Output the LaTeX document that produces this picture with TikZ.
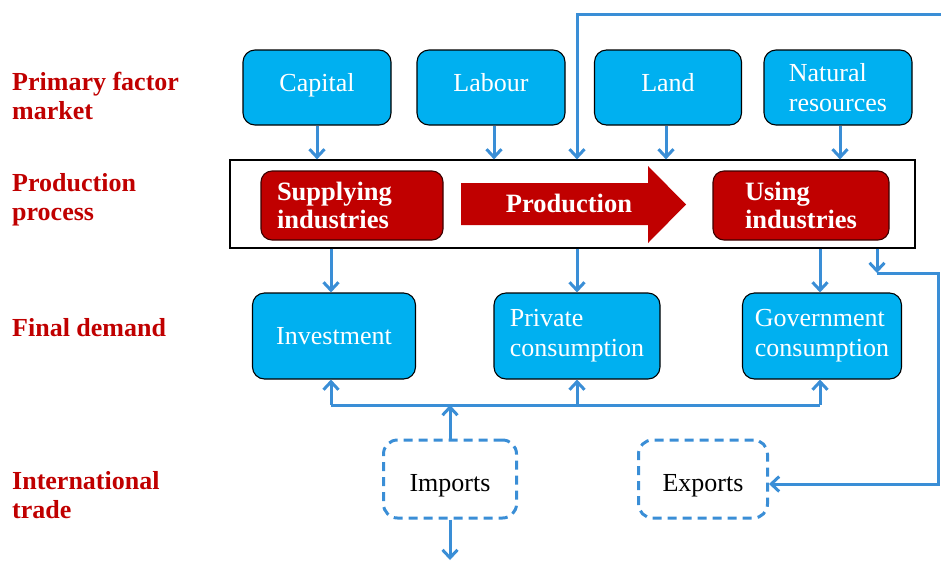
\documentclass[tikz,border=0pt]{standalone}
\usepackage{fontspec}
\setmainfont{Liberation Serif}
\usepackage{xcolor}
\usetikzlibrary{calc,arrows.meta}
\definecolor{boxblue}{RGB}{0,176,240}
\definecolor{darkred}{RGB}{192,0,0}
\definecolor{linkblue}{RGB}{58,142,214}
\tikzset{
	factor/.style={draw=black,line width=1.1pt,fill=boxblue,rounded corners=12pt,text=white,align=left,font=\fontsize{26}{30}\selectfont},
	oneline/.style={text height=16pt,text depth=8pt},
	industry/.style={draw=black!70!darkred,line width=1.1pt,fill=darkred,rounded corners=11pt,text=white,align=left,minimum height=69pt,font=\bfseries\fontsize{26.5}{28}\selectfont},
	trade/.style={draw=linkblue,line width=3pt,dash pattern=on 9pt off 6pt,rounded corners=14pt,minimum width=133pt,minimum height=78pt,text height=24pt,text depth=0pt,font=\fontsize{26}{28}\selectfont},
	rowlabel/.style={anchor=west,align=left,text=darkred,inner sep=0pt,font=\bfseries\fontsize{26}{29}\selectfont},
	flow/.style={draw=linkblue,line width=3pt,arrows={-Straight Barb[length=8pt,width=15pt,line width=3pt]}},
	link/.style={draw=linkblue,line width=3pt}
	}
\begin{document}
\begin{tikzpicture}[x=1pt,y=-1pt]
\useasboundingbox (0,0) rectangle (941,560);

% row labels
\node[rowlabel] (lfactor) at (12,96) {Primary factor\\market};
\node[rowlabel] (lprocess) at (12,200) {Production\\process};
\node[rowlabel] (ldemand) at (12,328) {Final demand};
\node[rowlabel] (ltrade) at (12,495) {International\\trade};

% primary factors
\node[factor,oneline,minimum width=148pt,minimum height=75pt] (capital) at (317,87.5) {Capital};
\node[factor,oneline,minimum width=148pt,minimum height=75pt] (labour) at (491,87.5) {Labour};
\node[factor,oneline,minimum width=147pt,minimum height=75pt] (land) at (668,87.5) {Land};
\node[factor,minimum width=148pt,minimum height=75pt] (natural) at (838,87.5) {Natural\\resources};

% production process
\node[draw=black,line width=1.2pt,minimum width=685pt,minimum height=88pt] (frame) at (572.5,204) {};
\node[industry,minimum width=182pt,text width=150pt,inner xsep=16pt] (supply) at (352,205.5) {Supplying\\industries};
\node[industry,minimum width=176pt] (using) at (801,205.5) {Using\\industries};
\fill[darkred] (461,183) -- (648,183) -- (648,166) -- (686,204.5) -- (648,243) -- (648,225) -- (461,225) -- cycle;
\node[text=white,font=\bfseries\fontsize{26.5}{28}\selectfont] (prod) at (569,203) {Production};

% final demand
\node[factor,minimum width=163pt,minimum height=86pt] (invest) at (334,336) {Investment};
\node[factor,minimum width=166pt,minimum height=86pt] (private) at (577,336) {Private\\consumption};
\node[factor,minimum width=159pt,minimum height=86pt] (govern) at (822,336) {Government\\consumption};

% international trade
\node[trade] (imports) at (450,479) {Imports};
\node[trade,minimum width=129pt] (exports) at (703,479) {Exports};

\coordinate (feed) at (941,14);
\coordinate (bus) at (450,405);
\coordinate (turn) at (877,273);
\coordinate (edge) at (938,273);
\coordinate (out) at (450,560);

% factor inputs
\draw[flow] (capital.south) -- (capital.south |- frame.north);
\draw[flow] ($(labour.south)+(3,0)$) -- ($(labour.south |- frame.north)+(3,0)$);
\draw[flow] ($(land.south)+(-2,0)$) -- ($(land.south |- frame.north)+(-2,0)$);
\draw[flow] ($(natural.south)+(2,0)$) -- ($(natural.south |- frame.north)+(2,0)$);
\draw[flow] (feed) -| (private.north |- frame.north);

% to final demand
\draw[flow] ($(invest.north |- frame.south)+(-3,0)$) -- ($(invest.north)+(-3,0)$);
\draw[flow] (private.north |- frame.south) -- (private.north);
\draw[flow] ($(govern.north |- frame.south)+(-2,0)$) -- ($(govern.north)+(-2,0)$);

% exports loop
\draw[flow] (turn |- frame.south) -- (turn);
\draw[flow] (turn) -- (edge) |- ($(exports.east)+(0,5)$);

% imports bus
\draw[link] ($(invest.south |- bus)+(-3,0)$) -- ($(govern.south |- bus)+(-2,0)$);
\draw[flow] ($(invest.south |- bus)+(-3,0)$) -- ($(invest.south)+(-3,0)$);
\draw[flow] (private.south |- bus) -- (private.south);
\draw[flow] ($(govern.south |- bus)+(-2,0)$) -- ($(govern.south)+(-2,0)$);
\draw[flow] (imports.north) -- (bus);
\draw[flow] (imports.south) -- (out);
\end{tikzpicture}
\end{document}
